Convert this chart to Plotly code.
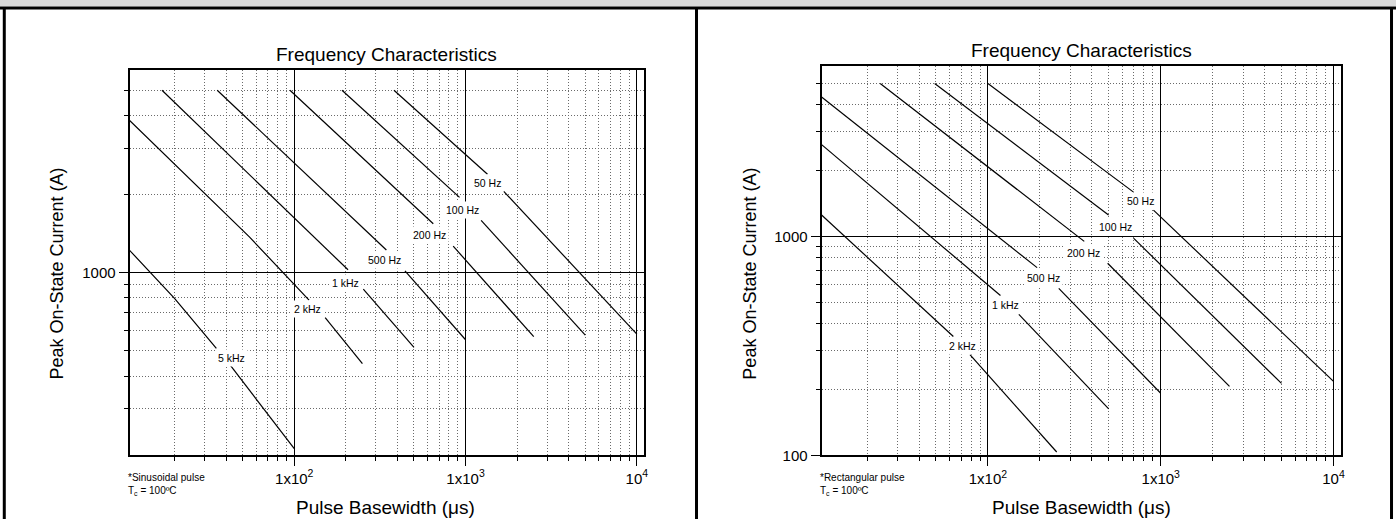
import numpy as np
import plotly.graph_objects as go

# ---------------- data ----------------
# Sinusoidal pulse chart: pulse basewidth (us) vs peak on-state current (A)
# None marks the break in each curve where its label sits
sin_labels = ["50 Hz", "100 Hz", "200 Hz", "500 Hz", "1 kHz", "2 kHz", "5 kHz"]
sin_50hz_x = [382, 1343, None, 1671, 10000]
sin_50hz_y = [5000, 2380, None, 2047, 580]
sin_100hz_x = [190, 922, None, 1233, 5000]
sin_100hz_y = [5000, 1941, None, 1584, 575]
sin_200hz_x = [94.4, 648, None, 847, 2500]
sin_200hz_y = [5000, 1538, None, 1262, 567]
sin_500hz_x = [35.5, 345, None, 443, 1000]
sin_500hz_y = [5000, 1219, None, 1015, 552]
sin_1khz_x = [16.9, 206, None, 253, 500]
sin_1khz_y = [5000, 1024, None, 864, 516]
sin_2khz_x = [10.9, 54.7, 122, None, 151.5, 250]
sin_2khz_y = [3837, 1369, 783, None, 671, 447]
sin_5khz_x = [10.9, 20, 35.1, None, 42.4, 100]
sin_5khz_y = [1219, 795, 512, None, 440, 211]
sin_label_x = [1343, 957, 620, 338, 200, 119.5, 43.3]
sin_label_y = [2203, 1744, 1397, 1117, 911, 722, 469]

# Rectangular pulse chart
rect_labels = ["50 Hz", "100 Hz", "200 Hz", "500 Hz", "1 kHz", "2 kHz"]
rect_50hz_x = [100, 696, None, 908, 10000]
rect_50hz_y = [5000, 1594, None, 1318, 217.5]
rect_100hz_x = [49.2, 499, None, 696, 5000]
rect_100hz_y = [5000, 1252, None, 982, 213]
rect_200hz_x = [23.8, 361, None, 493, 2500]
rect_200hz_y = [5000, 949, None, 754, 206.5]
rect_500hz_x = [10.9, 192.6, None, 257, 1000]
rect_500hz_y = [4339, 720, None, 579, 192]
rect_1khz_x = [10.9, 118.2, None, 151, 500]
rect_1khz_y = [2628, 537, None, 440, 163]
rect_2khz_x = [10.9, 63.1, None, 78.7, 250]
rect_2khz_y = [1252, 349, None, 288.5, 103.5]
rect_label_x = [767, 545, 358, 209, 126.4, 71]
rect_label_y = [1452, 1101, 841, 643, 484, 314.5]

# axis ticks
x_major = [100, 1000, 10000]
x_major_text = ["1x10<sup>2</sup>", "1x10<sup>3</sup>", "10<sup>4</sup>"]
x_minor = [20, 30, 40, 50, 60, 70, 80, 90,
           200, 300, 400, 500, 600, 700, 800, 900,
           2000, 3000, 4000, 5000, 6000, 7000, 8000, 9000]
sin_y_major = [1000]
sin_y_major_text = ["1000"]
sin_y_minor = [300, 400, 500, 600, 700, 800, 900, 2000, 3000, 4000, 5000]
rect_y_major = [100, 1000]
rect_y_major_text = ["100", "1000"]
rect_y_minor = [200, 300, 400, 500, 600, 700, 800, 900, 2000, 3000, 4000, 5000]

sin_x_range = [10.94, 11030]
sin_y_range = [200, 6000]
rect_x_range = [10.91, 11070]
rect_y_range = [100, 5990]

# ---------------- figure ----------------
W, H = 1400, 527
FONT = "Arial, 'Liberation Sans', Helvetica, sans-serif"


def fx(px):
    return px / W


def fy(py):
    return 1 - py / H


fig = go.Figure()

sin_curves = [(sin_50hz_x, sin_50hz_y), (sin_100hz_x, sin_100hz_y), (sin_200hz_x, sin_200hz_y),
              (sin_500hz_x, sin_500hz_y), (sin_1khz_x, sin_1khz_y), (sin_2khz_x, sin_2khz_y),
              (sin_5khz_x, sin_5khz_y)]
rect_curves = [(rect_50hz_x, rect_50hz_y), (rect_100hz_x, rect_100hz_y), (rect_200hz_x, rect_200hz_y),
               (rect_500hz_x, rect_500hz_y), (rect_1khz_x, rect_1khz_y), (rect_2khz_x, rect_2khz_y)]

for (cx, cy), name in zip(sin_curves, sin_labels):
    fig.add_trace(go.Scatter(x=cx, y=cy, mode="lines", name=name, xaxis="x", yaxis="y",
                             line=dict(color="black", width=1.2), connectgaps=False,
                             showlegend=False, hoverinfo="skip"))
for (cx, cy), name in zip(rect_curves, rect_labels):
    fig.add_trace(go.Scatter(x=cx, y=cy, mode="lines", name=name, xaxis="x2", yaxis="y2",
                             line=dict(color="black", width=1.2), connectgaps=False,
                             showlegend=False, hoverinfo="skip"))

MINOR_GRID = dict(tickmode="array", ticks="outside", ticklen=4, tickwidth=1.3, tickcolor="black",
                  showgrid=True, gridcolor="#6a6a6a", gridwidth=1, griddash="1px,2px")


def xax(domain, rng, anchor):
    return dict(type="log", domain=domain, range=[np.log10(rng[0]), np.log10(rng[1])], anchor=anchor,
                showline=True, mirror=True, linecolor="black", linewidth=2,
                ticks="outside", ticklen=9, tickwidth=1.3, tickcolor="black",
                tickmode="array", tickvals=x_major, ticktext=x_major_text,
                showgrid=True, gridcolor="black", gridwidth=1, zeroline=False,
                tickfont=dict(family=FONT, size=15, color="black"),
                minor=dict(MINOR_GRID, tickvals=x_minor))


def yax(domain, rng, anchor, major, major_text, minor):
    return dict(type="log", domain=domain, range=[np.log10(rng[0]), np.log10(rng[1])], anchor=anchor,
                showline=True, mirror=True, linecolor="black", linewidth=2,
                ticks="outside", ticklen=9, tickwidth=1.3, tickcolor="black",
                tickmode="array", tickvals=major, ticktext=major_text,
                showgrid=True, gridcolor="black", gridwidth=1, zeroline=False,
                tickfont=dict(family=FONT, size=15, color="black"),
                minor=dict(MINOR_GRID, tickvals=minor))


fig.update_layout(
    width=W, height=H,
    margin=dict(l=0, r=0, t=0, b=0),
    paper_bgcolor="white", plot_bgcolor="white",
    font=dict(family=FONT, color="black"),
    showlegend=False,
    xaxis=xax([fx(130), fx(646)], sin_x_range, "y"),
    yaxis=yax([fy(461.7), fy(70.7)], sin_y_range, "x", sin_y_major, sin_y_major_text, sin_y_minor),
    xaxis2=xax([fx(824), fx(1345)], rect_x_range, "y2"),
    yaxis2=yax([fy(462.3), fy(67.3)], rect_y_range, "x2", rect_y_major, rect_y_major_text, rect_y_minor),
)

ann = []
for lx, ly, t in zip(sin_label_x, sin_label_y, sin_labels):
    ann.append(dict(x=np.log10(lx), y=np.log10(ly), xref="x", yref="y", text=t, showarrow=False,
                    bgcolor="white", borderpad=2, font=dict(family=FONT, size=10.5, color="black")))
for lx, ly, t in zip(rect_label_x, rect_label_y, rect_labels):
    ann.append(dict(x=np.log10(lx), y=np.log10(ly), xref="x2", yref="y2", text=t, showarrow=False,
                    bgcolor="white", borderpad=2, font=dict(family=FONT, size=10.5, color="black")))

# titles, axis titles, notes
for cx, ty in [(388, 55), (1084.5, 51)]:
    ann.append(dict(x=fx(cx), y=fy(ty), xref="paper", yref="paper", text="Frequency Characteristics",
                    showarrow=False, xanchor="center", yanchor="middle",
                    font=dict(family=FONT, size=19, color="black")))
for cx in [386.7, 1084.5]:
    ann.append(dict(x=fx(cx), y=fy(515), xref="paper", yref="paper", text="Pulse Basewidth (\u03bcs)",
                    showarrow=False, xanchor="center", yanchor="middle",
                    font=dict(family=FONT, size=19, color="black")))
for cx in [57, 752]:
    ann.append(dict(x=fx(cx), y=fy(278), xref="paper", yref="paper", text="Peak On-State Current (A)",
                    textangle=-90, showarrow=False, xanchor="center", yanchor="middle",
                    font=dict(family=FONT, size=18, color="black")))
for cx, t in [(126.7, "*Sinusoidal pulse"), (820.7, "*Rectangular pulse")]:
    ann.append(dict(x=fx(cx), y=fy(491.5), xref="paper", yref="paper",
                    text=t + "<br>T<sub>c</sub> = 100\u00baC", align="left",
                    showarrow=False, xanchor="left", yanchor="middle",
                    font=dict(family=FONT, size=10, color="black")))
fig.update_layout(annotations=ann)

# page frame (header band and panel borders)
shapes = [
    dict(type="rect", xref="paper", yref="paper", x0=0, x1=1, y0=fy(6.5), y1=1,
         fillcolor="#d9d9d9", line=dict(width=0), layer="above"),
    dict(type="line", xref="paper", yref="paper", x0=0, x1=1, y0=fy(8), y1=fy(8),
         line=dict(color="black", width=3), layer="above"),
    dict(type="line", xref="paper", yref="paper", x0=fx(4.3), x1=fx(4.3), y0=0, y1=fy(8),
         line=dict(color="black", width=3), layer="above"),
    dict(type="line", xref="paper", yref="paper", x0=fx(698.5), x1=fx(698.5), y0=0, y1=fy(8),
         line=dict(color="black", width=3), layer="above"),
    dict(type="line", xref="paper", yref="paper", x0=fx(1395.5), x1=fx(1395.5), y0=0, y1=fy(8),
         line=dict(color="black", width=3), layer="above"),
]
fig.update_layout(shapes=shapes)

fig.write_html("out.html", config={"displayModeBar": False},
               post_script="document.body.style.margin='0';document.body.style.overflow='hidden';")
